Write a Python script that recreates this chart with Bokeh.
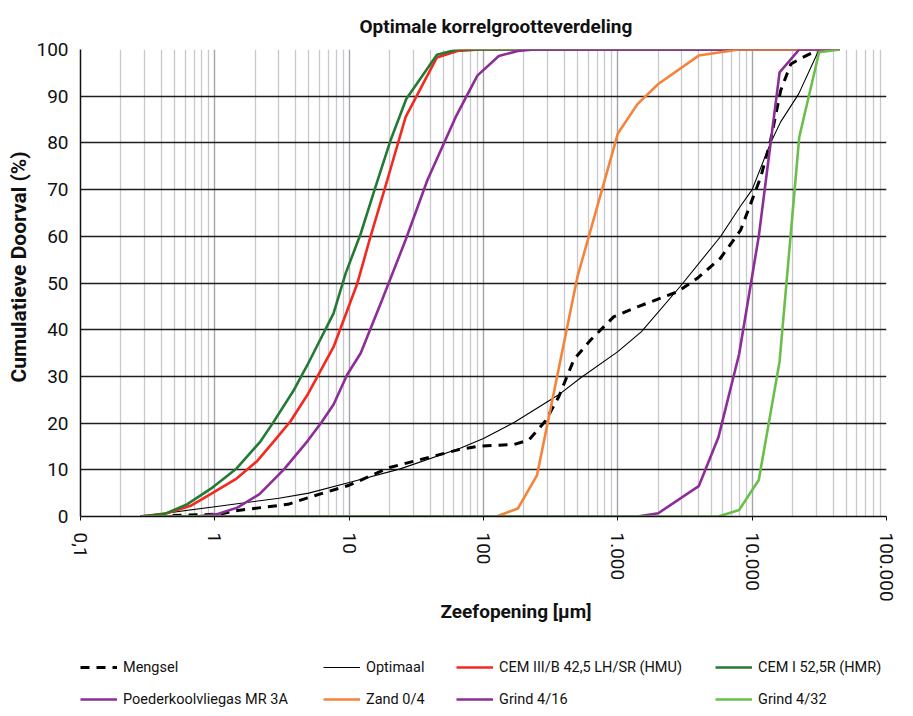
from bokeh.plotting import figure
from bokeh.layouts import column
from bokeh.models import FixedTicker, Legend, LegendItem, Title
from bokeh.embed import file_html
from bokeh.resources import INLINE

# ---- data ----
mengsel_x = [0.28, 1.1, 1.4, 2.2, 3.5, 4.9, 10, 20, 67, 95, 168, 218, 290, 364, 471, 627, 935,
             1400, 2770, 3900, 5800, 8200, 9750, 11600, 13700, 16300, 19400, 23700, 31500]
mengsel_y = [0, 0.5, 1.2, 1.9, 2.6, 4.0, 6.7, 10.5, 14.4, 15.1, 15.4, 16.4, 20.5, 25.7, 33.6, 37.8, 42.8,
             44.9, 48.1, 51.0, 55.3, 61.3, 67.0, 72.7, 80.5, 91.2, 96.9, 98.3, 100]

optimaal_x = [0.28, 1, 3, 5, 10, 24, 67, 100, 170, 360, 530, 1000, 1500, 2900, 5800, 8200,
              10000, 13700, 16300, 22200, 31500]
optimaal_y = [0, 2.1, 3.9, 5.0, 7.3, 10.2, 14.6, 16.7, 20.2, 26.0, 29.7, 35.3, 39.6, 49.2, 59.9, 66.5,
              70.0, 80.0, 84.5, 90.5, 100]

cem3_x = [0.28, 0.44, 0.66, 0.93, 1.43, 2.07, 2.75, 3.66, 4.95, 7.65, 11.5, 14.4, 19.2, 26.3, 45, 64, 95, 45000]
cem3_y = [0, 0.7, 2.3, 4.8, 8.0, 11.9, 16.1, 20.4, 26.3, 36.3, 49.9, 59.9, 72.0, 85.5, 98.3, 99.7, 100, 100]

cem1_x = [0.28, 0.42, 0.62, 0.96, 1.43, 2.19, 2.7, 3.9, 4.9, 7.65, 9.4, 12.2, 15.7, 20.3, 26.6, 45, 64, 45000]
cem1_y = [0, 0.5, 2.6, 6.2, 10.1, 16.1, 20.0, 27.2, 32.5, 43.5, 52.0, 60.6, 70.6, 80.5, 89.4, 98.9, 100, 100]

pkv_x = [0.28, 0.74, 1.04, 1.47, 2.15, 3.27, 4.88, 6.23, 7.65, 9.68, 12.2, 17.6, 26.3, 38.2, 62, 90,
         130, 180, 240, 45000]
pkv_y = [0, 0, 0.5, 1.9, 4.8, 10.1, 16.1, 20.2, 24.0, 30.4, 35.0, 46.4, 59.2, 72.0, 85.5, 94.4,
         98.6, 99.7, 100, 100]

zand_x = [0.28, 125, 180, 250, 500, 1000, 1400, 2000, 4000, 8000, 45000]
zand_y = [0, 0, 1.7, 8.8, 51.3, 82.0, 88.3, 92.6, 98.7, 100, 100]

grind416_x = [0.28, 1400, 2000, 4000, 5600, 8000, 11200, 16000, 22400, 45000]
grind416_y = [0, 0, 0.7, 6.5, 16.9, 34.8, 60.0, 95.1, 100, 100]

grind432_x = [0.28, 5600, 8000, 11200, 16000, 22400, 31500, 45000]
grind432_y = [0, 0, 1.4, 7.8, 33.2, 81.2, 99.4, 100]

x_ticks = [0.1, 1, 10, 100, 1000, 10000, 100000]
x_tick_labels = ["0,1", "1", "10", "100", "1.000", "10.000", "100.000"]
y_ticks = [0, 10, 20, 30, 40, 50, 60, 70, 80, 90, 100]

series_names = ["Mengsel", "Optimaal", "CEM III/B 42,5 LH/SR (HMU)", "CEM I 52,5R (HMR)",
                "Poederkoolvliegas MR 3A", "Zand 0/4", "Grind 4/16", "Grind 4/32"]

FONT = "Roboto"

p = figure(width=897, height=625, x_axis_type="log", x_range=(0.1, 100000), y_range=(0, 100),
           output_backend="svg", toolbar_location=None,
           min_border_left=80, min_border_right=11, min_border_top=49, min_border_bottom=109)

p.title.text = "Optimale korrelgrootteverdeling"
p.title.align = "left"
p.title.text_font = FONT
p.title.text_font_size = "19px"
p.title.text_font_style = "bold"
p.title.text_color = "#111111"
p.title.offset = 279
p.title.standoff = 23

p.outline_line_color = None
p.background_fill_color = "white"
p.border_fill_color = "white"

# x axis
minor = [m * 10.0 ** e for e in range(-1, 5) for m in range(2, 10)]
p.xaxis.ticker = FixedTicker(ticks=x_ticks, minor_ticks=minor)
p.xaxis.major_label_overrides = {t: l for t, l in zip(x_ticks, x_tick_labels)}
p.xaxis.major_label_orientation = "vertical"
p.xaxis.major_label_text_font = FONT
p.xaxis.major_label_text_font_size = "19px"
p.xaxis.major_label_text_color = "#111111"
p.xaxis.major_label_standoff = 12
p.xaxis.major_tick_in = 0
p.xaxis.major_tick_out = 4
p.xaxis.minor_tick_in = 0
p.xaxis.minor_tick_out = 0
p.xaxis.axis_line_color = "#111111"
p.xaxis.axis_line_width = 1.5
p.xaxis.major_tick_line_color = "#111111"

# y axis
p.yaxis.ticker = FixedTicker(ticks=y_ticks)
p.yaxis.major_label_text_font = FONT
p.yaxis.major_label_text_font_size = "19px"
p.yaxis.major_label_text_color = "#111111"
p.yaxis.major_label_standoff = 12
p.yaxis.major_tick_in = 0
p.yaxis.major_tick_out = 0
p.yaxis.minor_tick_in = 0
p.yaxis.minor_tick_out = 0
p.yaxis.axis_line_color = "#111111"
p.yaxis.axis_line_width = 1.5

# axis titles (as side titles so they can be offset like in the reference)
xt = Title(text="Zeefopening [µm]", align="left", offset=360, standoff=-14,
           text_font=FONT, text_font_size="19px", text_font_style="bold", text_color="#111111")
p.add_layout(xt, "below")
yt = Title(text="Cumulatieve Doorval (%)", align="left", offset=134, standoff=6,
           text_font=FONT, text_font_size="21px", text_font_style="bold", text_color="#111111")
p.add_layout(yt, "left")

# grids
p.xgrid.grid_line_color = "#a4a4ac"
p.xgrid.grid_line_width = 1.4
p.xgrid.minor_grid_line_color = "#c8c8ce"
p.xgrid.minor_grid_line_width = 1.3
p.ygrid.grid_line_color = "#1e1e1e"
p.ygrid.grid_line_width = 1.4

W = 2.6
styles = [
    dict(line_color="black", line_width=3, line_dash="9 7"),
    dict(line_color="black", line_width=1.1),
    dict(line_color="#f3281f", line_width=W),
    dict(line_color="#247a34", line_width=W),
    dict(line_color="#8c2d98", line_width=W),
    dict(line_color="#f5843a", line_width=W),
    dict(line_color="#8c2d98", line_width=W),
    dict(line_color="#6abf4b", line_width=W),
]
series = [(mengsel_x, mengsel_y), (optimaal_x, optimaal_y), (cem3_x, cem3_y), (cem1_x, cem1_y),
          (pkv_x, pkv_y), (zand_x, zand_y), (grind416_x, grind416_y), (grind432_x, grind432_y)]
for (xs, ys), st in zip(series, styles):
    p.line(xs, ys, **st)

# ---- legend in its own strip below the chart ----
lf = figure(width=897, height=88, x_range=(0, 1), y_range=(0, 1), output_backend="svg",
            toolbar_location=None, min_border=0, x_axis_location=None, y_axis_location=None)
lf.outline_line_color = None
lf.xgrid.visible = False
lf.ygrid.visible = False
nan = float("nan")
proxies = [lf.line(x=[nan], y=[nan], **st) for st in styles]

col_x = [0, 243, 376, 635]
for c in range(4):
    idx = [c, c + 4]
    lg = Legend(items=[LegendItem(label=series_names[i], renderers=[proxies[i]]) for i in idx],
                orientation="vertical", location=(col_x[c], 4),
                border_line_color=None, background_fill_alpha=0,
                label_text_font=FONT, label_text_font_size="14.5px", label_text_color="#111111",
                glyph_width=37, glyph_height=20, label_height=20, label_standoff=6,
                spacing=12, padding=0, margin=0)
    lf.add_layout(lg, "center")

open("out.html", "w").write(file_html(column(p, lf), INLINE))
